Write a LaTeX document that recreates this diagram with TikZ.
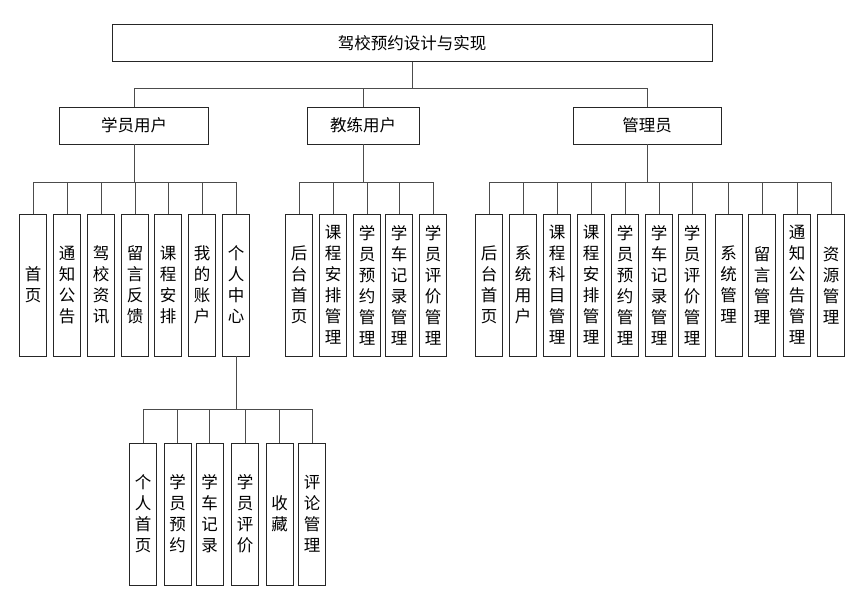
\documentclass[tikz,border=0pt]{standalone}
\usepackage{fontspec}
\setmainfont{Noto Sans CJK SC}
\begin{document}
\begin{tikzpicture}[x=1pt,y=-1pt,
  box/.style={draw=black!85,line width=0.9pt,inner sep=0pt,font=\fontsize{16.5}{21}\selectfont,align=center},
  hbox/.style={box,minimum height=37pt},
  vbox/.style={box,minimum width=27pt,minimum height=142pt},
  link/.style={draw=black!70,line width=0.9pt}]
\useasboundingbox (0,0) rectangle (859,603);
% top
\node[hbox,minimum width=600pt] (root) at (412,43) {驾校预约设计与实现};
\node[hbox,minimum width=149pt] (stu) at (134,125.5) {学员用户};
\node[hbox,minimum width=112pt] (coa) at (363,125.5) {教练用户};
\node[hbox,minimum width=148pt] (adm) at (647,125.5) {管理员};
\coordinate (j1) at (0,88);
\coordinate (j2) at (0,182);
\coordinate (j3) at (0,409);
\foreach \c in {stu,coa,adm}{\draw[link] (root.south) -- (root.south|-j1) -| (\c.north);}
% student children
\foreach \n/\x/\t in {s1/33/首\\页,s2/67/通\\知\\公\\告,s3/101/驾\\校\\资\\讯,s4/135/留\\言\\反\\馈,s5/168/课\\程\\安\\排,s6/202/我\\的\\账\\户,s7/236/个\\人\\中\\心}{
  \node[vbox] (\n) at (\x,285) {\t};
  \draw[link] (stu.south) -- (stu.south|-j2) -| (\n.north);
}
% coach children
\foreach \n/\x/\t in {c1/299/后\\台\\首\\页,c2/333/课\\程\\安\\排\\管\\理,c3/367/学\\员\\预\\约\\管\\理,c4/399/学\\车\\记\\录\\管\\理,c5/433/学\\员\\评\\价\\管\\理}{
  \node[vbox] (\n) at (\x,285) {\t};
  \draw[link] (coa.south) -- (coa.south|-j2) -| (\n.north);
}
% admin children
\foreach \n/\x/\t in {a1/489/后\\台\\首\\页,a2/523/系\\统\\用\\户,a3/557/课\\程\\科\\目\\管\\理,a4/591/课\\程\\安\\排\\管\\理,a5/625/学\\员\\预\\约\\管\\理,a6/659/学\\车\\记\\录\\管\\理,a7/692/学\\员\\评\\价\\管\\理,a8/728.5/系\\统\\管\\理,a9/762/留\\言\\管\\理,a10/797/通\\知\\公\\告\\管\\理,a11/831/资\\源\\管\\理}{
  \node[vbox] (\n) at (\x,285) {\t};
  \draw[link] (adm.south) -- (adm.south|-j2) -| (\n.north);
}
% personal center children
\foreach \n/\x/\t in {p1/143/个\\人\\首\\页,p2/177.5/学\\员\\预\\约,p3/209.5/学\\车\\记\\录,p4/245/学\\员\\评\\价,p5/279.5/收\\藏,p6/312/评\\论\\管\\理}{
  \node[vbox] (\n) at (\x,514) {\t};
  \draw[link] (s7.south) -- (s7.south|-j3) -| (\n.north);
}
\end{tikzpicture}
\end{document}
